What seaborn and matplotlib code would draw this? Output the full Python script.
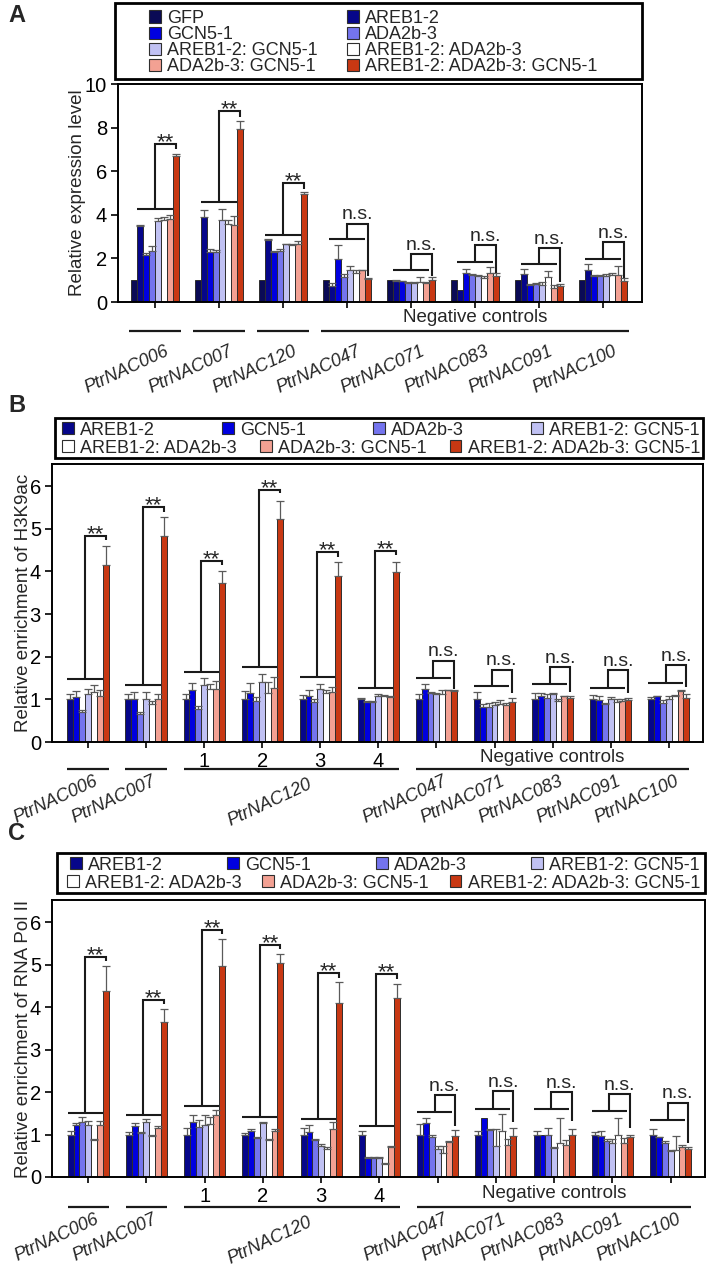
import numpy as np
import pandas as pd
import matplotlib
matplotlib.use('Agg')
import matplotlib.pyplot as plt
import matplotlib.transforms as mtransforms
from matplotlib.patches import Patch, Rectangle
import seaborn as sns

sns.set_theme(style='white')
plt.rcParams['font.family'] = ['Liberation Sans', 'DejaVu Sans']
plt.rcParams['axes.edgecolor'] = 'black'

# ---------------- data ----------------
series_all = ['GFP', 'AREB1-2', 'GCN5-1', 'ADA2b-3', 'AREB1-2: GCN5-1',
              'AREB1-2: ADA2b-3', 'ADA2b-3: GCN5-1', 'AREB1-2: ADA2b-3: GCN5-1']
colors_all = ['#0a0a55', '#06068a', '#0000e0', '#7474ee', '#c0c1f3',
              '#ffffff', '#f3a193', '#c83813']

# Panel A: relative expression level
a_groups = ['PtrNAC006', 'PtrNAC007', 'PtrNAC120', 'PtrNAC047',
            'PtrNAC071', 'PtrNAC083', 'PtrNAC091', 'PtrNAC100']
a_vals = {
    'GFP':                      [1.0, 1.0, 1.0, 1.0, 1.0, 1.0, 1.0, 1.0],
    'AREB1-2':                  [3.47, 3.9, 2.85, 0.75, 0.98, 0.54, 1.28, 1.49],
    'GCN5-1':                   [2.15, 2.3, 2.3, 1.95, 0.95, 1.33, 0.78, 1.2],
    'ADA2b-3':                  [2.35, 2.3, 2.35, 1.15, 0.86, 1.23, 0.82, 1.18],
    'AREB1-2: GCN5-1':          [3.7, 3.75, 2.65, 1.45, 0.86, 1.18, 0.77, 1.2],
    'AREB1-2: ADA2b-3':         [3.75, 3.6, 2.6, 1.35, 0.94, 1.08, 1.15, 1.26],
    'ADA2b-3: GCN5-1':          [3.8, 3.55, 2.65, 1.45, 0.85, 1.33, 0.63, 1.26],
    'AREB1-2: ADA2b-3: GCN5-1': [6.7, 7.95, 4.95, 1.05, 1.03, 1.18, 0.72, 0.95],
}
a_errs = {
    'GFP':                      [0, 0, 0, 0, 0, 0, 0, 0],
    'AREB1-2':                  [0.08, 0.3, 0.02, 0.1, 0.03, 0.0, 0.25, 0.27],
    'GCN5-1':                   [0.08, 0.12, 0.05, 0.65, 0.03, 0.18, 0.03, 0.03],
    'ADA2b-3':                  [0.2, 0.1, 0.1, 0.15, 0.04, 0.05, 0.05, 0.05],
    'AREB1-2: GCN5-1':          [0.15, 0.5, 0.03, 0.22, 0.08, 0.05, 0.15, 0.1],
    'AREB1-2: ADA2b-3':         [0.15, 0.18, 0.08, 0.1, 0.22, 0.12, 0.25, 0.05],
    'ADA2b-3: GCN5-1':          [0.2, 0.38, 0.15, 0.02, 0.05, 0.27, 0.15, 0.38],
    'AREB1-2: ADA2b-3: GCN5-1': [0.1, 0.35, 0.08, 0.05, 0.1, 0.15, 0.12, 0.15],
}
a_sig_text = ['**', '**', '**', 'n.s.', 'n.s.', 'n.s.', 'n.s.', 'n.s.']
a_sig_low = [4.28, 4.6, 3.08, 2.87, 1.46, 1.84, 1.73, 1.98]
a_sig_high = [7.24, 8.74, 5.48, 3.6, 2.2, 2.6, 2.48, 2.76]
a_sig_end = [7.0, 8.5, 5.2, 1.2, 1.2, 1.35, 0.9, 1.1]

# Panels B, C
bc_groups = ['PtrNAC006', 'PtrNAC007', 'PtrNAC120-1', 'PtrNAC120-2', 'PtrNAC120-3',
             'PtrNAC120-4', 'PtrNAC047', 'PtrNAC071', 'PtrNAC083', 'PtrNAC091', 'PtrNAC100']
bc_ticklabels = ['', '', '1', '2', '3', '4', '', '', '', '', '']

b_vals = {
    'AREB1-2':                  [1.0, 1.0, 1.0, 1.0, 1.0, 1.0, 1.0, 1.0, 1.0, 1.0, 1.0],
    'GCN5-1':                   [1.05, 1.02, 1.23, 1.16, 1.09, 0.93, 1.25, 0.82, 1.07, 0.98, 1.08],
    'ADA2b-3':                  [0.70, 0.65, 0.78, 0.96, 0.93, 0.94, 1.15, 0.82, 1.04, 0.90, 0.91],
    'AREB1-2: GCN5-1':          [1.12, 1.02, 1.33, 1.41, 1.25, 1.08, 1.13, 0.86, 1.12, 1.0, 1.0],
    'AREB1-2: ADA2b-3':         [1.18, 0.90, 1.25, 1.15, 1.16, 1.08, 1.13, 0.90, 0.96, 0.94, 1.09],
    'ADA2b-3: GCN5-1':          [1.07, 1.0, 1.25, 1.27, 1.17, 1.06, 1.21, 0.875, 1.07, 0.96, 1.19],
    'AREB1-2: ADA2b-3: GCN5-1': [4.16, 4.82, 3.72, 5.22, 3.9, 3.99, 1.2, 0.94, 1.03, 0.98, 1.03],
}
b_errs = {
    'AREB1-2':                  [0.13, 0.13, 0.13, 0.2, 0.11, 0.03, 0.13, 0.17, 0.15, 0.11, 0.05],
    'GCN5-1':                   [0.14, 0.15, 0.16, 0.23, 0.12, 0.02, 0.12, 0.08, 0.09, 0.09, 0.01],
    'ADA2b-3':                  [0.06, 0.05, 0.06, 0.1, 0.09, 0.02, 0.02, 0.1, 0.09, 0.02, 0.07],
    'AREB1-2: GCN5-1':          [0.13, 0.15, 0.17, 0.18, 0.12, 0.04, 0.02, 0.08, 0.03, 0.05, 0.07],
    'AREB1-2: ADA2b-3':         [0.15, 0.07, 0.12, 0.25, 0.05, 0.03, 0.1, 0.08, 0.06, 0.08, 0.02],
    'ADA2b-3: GCN5-1':          [0.14, 0.13, 0.18, 0.25, 0.12, 0.03, 0.02, 0.04, 0.02, 0.04, 0.02],
    'AREB1-2: ADA2b-3: GCN5-1': [0.43, 0.46, 0.28, 0.44, 0.31, 0.23, 0.01, 0.1, 0.04, 0.06, 0.1],
}
b_sig_text = ['**'] * 6 + ['n.s.'] * 5
b_sig_low = [1.47, 1.33, 1.64, 1.76, 1.52, 1.27, 1.5, 1.31, 1.35, 1.27, 1.38]
b_sig_high = [4.83, 5.5, 4.25, 5.92, 4.45, 4.48, 1.91, 1.7, 1.76, 1.68, 1.8]
b_sig_end = [4.73, 5.39, 4.15, 5.83, 4.35, 4.38, 1.25, 1.16, 1.17, 1.15, 1.29]

c_vals = {
    'AREB1-2':                  [1.0, 1.0, 1.0, 1.0, 1.0, 1.0, 1.0, 1.0, 1.0, 0.98, 1.0],
    'GCN5-1':                   [1.22, 1.2, 1.29, 1.08, 1.07, 0.45, 1.26, 1.38, 1.0, 0.97, 0.93],
    'ADA2b-3':                  [1.3, 1.03, 1.17, 0.92, 0.86, 0.45, 0.95, 1.11, 1.0, 0.85, 0.8],
    'AREB1-2: GCN5-1':          [1.22, 1.29, 1.23, 1.27, 0.72, 0.45, 0.67, 0.72, 0.68, 0.81, 0.62],
    'AREB1-2: ADA2b-3':         [0.87, 0.96, 1.24, 0.88, 0.66, 0.31, 0.56, 1.09, 0.8, 1.0, 0.64],
    'ADA2b-3: GCN5-1':          [1.22, 1.16, 1.46, 1.08, 1.12, 0.7, 0.83, 0.75, 0.76, 0.81, 0.7],
    'AREB1-2: ADA2b-3: GCN5-1': [4.38, 3.65, 4.96, 5.04, 4.09, 4.21, 0.97, 0.97, 1.0, 0.95, 0.67],
}
c_errs = {
    'AREB1-2':                  [0.09, 0.06, 0.15, 0.03, 0.15, 0.09, 0.24, 0.09, 0.09, 0.07, 0.14],
    'GCN5-1':                   [0.06, 0.06, 0.17, 0.05, 0.16, 0.02, 0.12, 0.0, 0.0, 0.12, 0.02],
    'ADA2b-3':                  [0.11, 0.02, 0.16, 0.02, 0.03, 0.02, 0.04, 0.02, 0.16, 0.04, 0.05],
    'AREB1-2: GCN5-1':          [0.1, 0.08, 0.22, 0.03, 0.06, 0.02, 0.06, 0.41, 0.02, 0.08, 0.02],
    'AREB1-2: ADA2b-3':         [0.03, 0.02, 0.18, 0.01, 0.04, 0.02, 0.17, 0.39, 0.6, 0.4, 0.33],
    'ADA2b-3: GCN5-1':          [0.1, 0.05, 0.12, 0.04, 0.17, 0.04, 0.02, 0.14, 0.1, 0.1, 0.06],
    'AREB1-2: ADA2b-3: GCN5-1': [0.58, 0.31, 0.64, 0.22, 0.5, 0.34, 0.13, 0.19, 0.14, 0.05, 0.03],
}
c_sig_text = ['**'] * 6 + ['n.s.'] * 5
c_sig_low = [1.5, 1.45, 1.68, 1.41, 1.37, 1.19, 1.52, 1.61, 1.59, 1.55, 1.34]
c_sig_high = [5.18, 4.17, 5.82, 5.46, 4.79, 4.77, 1.92, 2.02, 2.0, 1.95, 1.75]
c_sig_end = [5.08, 4.07, 5.72, 5.36, 4.69, 4.67, 1.2, 1.3, 1.32, 1.16, 0.81]

palette = dict(zip(series_all, colors_all))

# ---------------- figure ----------------
W, H = 711, 1269
fig = plt.figure(figsize=(W / 100, H / 100), dpi=100)


def ax_rect(l, r, t, b):
    return [l / W, 1 - b / H, (r - l) / W, (b - t) / H]


axA = fig.add_axes(ax_rect(118, 642, 84, 302))
axB = fig.add_axes(ax_rect(52, 703, 464, 742))
axC = fig.add_axes(ax_rect(52, 705, 900, 1177))

FS = 13
TFS = 14.5
EDGE = '#2e2e2e'


def draw_bars(ax, groups, series, vals, errs, width):
    rows = [(g, s, vals[s][i]) for s in series for i, g in enumerate(groups)]
    df = pd.DataFrame(rows, columns=['group', 'series', 'value'])
    sns.barplot(data=df, x='group', y='value', hue='series', order=groups,
                hue_order=series, palette=[palette[s] for s in series],
                saturation=1, width=width, errorbar=None, edgecolor=EDGE,
                linewidth=0.7, legend=False, ax=ax, zorder=2)
    geo = {}
    for s, cont in zip(series, ax.containers):
        lefts = np.array([p.get_x() for p in cont.patches])
        ws = np.array([p.get_width() for p in cont.patches])
        hs = np.array([p.get_height() for p in cont.patches])
        xs = lefts + ws / 2
        e = np.array(errs[s], dtype=float)
        m = e > 0
        if m.any():
            ax.errorbar(xs[m], hs[m], yerr=[np.zeros(m.sum()), e[m]], fmt='none',
                        ecolor='#5a5a5a', elinewidth=0.9, capsize=2.6,
                        capthick=0.9, zorder=3)
        geo[s] = (xs, lefts, ws)
    return geo


def draw_sig(ax, geo, n, low, high, end, texts, first, last, target):
    for i in range(n):
        x0 = geo[first][1][i]
        x1 = geo[last][1][i] + geo[last][2][i]
        xm = (x0 + x1) / 2
        xt = geo[target][0][i]
        ax.plot([x0, x1], [low[i], low[i]], color='k', lw=1.5,
                solid_capstyle='butt', clip_on=False, zorder=4)
        ax.plot([xm, xm, xt, xt], [low[i], high[i], high[i], end[i]], color='k',
                lw=1.5, solid_capstyle='butt', solid_joinstyle='miter',
                clip_on=False, zorder=4)
        if texts[i] == '**':
            off, fs = -3.0, 16
        else:
            off, fs = 3.0, 14
        ax.annotate(texts[i], xy=((xm + xt) / 2, high[i]), xytext=(0, off),
                    textcoords='offset points', ha='center', va='baseline',
                    fontsize=fs)


def style_axis(ax, ylim, yticks, ylabel, xlim, xticklabels, label_x):
    ax.set_ylim(*ylim)
    ax.set_yticks(yticks)
    ax.set_yticklabels([str(t) for t in yticks], fontsize=TFS)
    ax.set_xlim(*xlim)
    ax.set_xticks(range(len(xticklabels)))
    ax.set_xticklabels(xticklabels, fontsize=TFS)
    ax.set_xlabel('')
    ax.set_ylabel(ylabel, fontsize=FS + 0.5)
    ax.yaxis.set_label_coords(label_x, 0.5)
    for sp in ax.spines.values():
        sp.set_visible(True)
        sp.set_linewidth(1.4)
        sp.set_color('black')
    ax.tick_params(axis='y', direction='out', length=5, width=1.2, pad=3,
                   left=True, colors='black')
    ax.tick_params(axis='x', direction='out', length=4, width=1.2, pad=3,
                   bottom=True, colors='black')
    ax.grid(False)


def group_line(ax, x0, x1, y):
    tr = mtransforms.blended_transform_factory(ax.transData, ax.transAxes)
    ax.plot([x0, x1], [y, y], color='k', lw=1.6, transform=tr, clip_on=False,
            solid_capstyle='butt')


def rot_label(ax, x, y, s):
    tr = mtransforms.blended_transform_factory(ax.transData, ax.transAxes)
    ax.text(x, y, s, transform=tr, rotation=25, ha='right', va='top',
            rotation_mode='anchor', fontsize=13, style='italic')


def neg_text(ax, x, y):
    tr = mtransforms.blended_transform_factory(ax.transData, ax.transAxes)
    ax.text(x, y, 'Negative controls', transform=tr, ha='center', va='center',
            fontsize=FS + 0.5)


# ---------- Panel A ----------
geoA = draw_bars(axA, a_groups, series_all, a_vals, a_errs, 0.75)
style_axis(axA, (0, 10), [0, 2, 4, 6, 8, 10], 'Relative expression level',
           (-0.58, 7.61), [''] * len(a_groups), -0.062)
draw_sig(axA, geoA, len(a_groups), a_sig_low, a_sig_high, a_sig_end, a_sig_text,
         'AREB1-2', 'ADA2b-3: GCN5-1', 'AREB1-2: ADA2b-3: GCN5-1')
gl = geoA['GFP'][1]
gr = geoA['AREB1-2: ADA2b-3: GCN5-1'][1] + geoA['AREB1-2: ADA2b-3: GCN5-1'][2]
for i in range(3):
    group_line(axA, gl[i] - 0.03, gr[i] + 0.03, -0.133)
group_line(axA, gl[3] - 0.03, gr[7] + 0.03, -0.133)
neg_text(axA, (gl[3] + gr[7]) / 2, -0.073)
for i, g in enumerate(a_groups):
    rot_label(axA, i + 0.14, -0.185, g)

# ---------- Panel B / C ----------
bc_series = series_all[1:]
for ax, vals, errs, low, high, end, texts, ylabel, width, lab_y, neg_y, line_y in [
        (axB, b_vals, b_errs, b_sig_low, b_sig_high, b_sig_end, b_sig_text,
         'Relative enrichment of H3K9ac', 0.71, -0.112, -0.054, -0.097),
        (axC, c_vals, c_errs, c_sig_low, c_sig_high, c_sig_end, c_sig_text,
         'Relative enrichment of RNA Pol II', 0.70, -0.122, -0.061, -0.108)]:
    geo = draw_bars(ax, bc_groups, bc_series, vals, errs, width)
    style_axis(ax, (0, 6.52), [0, 1, 2, 3, 4, 5, 6], ylabel,
               (-0.62, 10.59), bc_ticklabels, -0.031)
    draw_sig(ax, geo, len(bc_groups), low, high, end, texts,
             'AREB1-2', 'ADA2b-3: GCN5-1', 'AREB1-2: ADA2b-3: GCN5-1')
    gl = geo['AREB1-2'][1]
    gr = geo['AREB1-2: ADA2b-3: GCN5-1'][1] + geo['AREB1-2: ADA2b-3: GCN5-1'][2]
    group_line(ax, gl[0], gr[0], line_y)
    group_line(ax, gl[1], gr[1], line_y)
    group_line(ax, gl[2], gr[5], line_y)
    group_line(ax, gl[6], gr[10], line_y)
    neg_text(ax, (gl[6] + gr[10]) / 2, neg_y)
    for i, g in enumerate(bc_groups):
        if g.startswith('PtrNAC120'):
            continue
        rot_label(ax, i + 0.1, lab_y, g)
    rot_label(ax, 3.5 + 0.27, lab_y - 0.01, 'PtrNAC120')

# ---------- legends ----------
handles = {s: Patch(facecolor=palette[s], edgecolor=EDGE, linewidth=0.8)
           for s in series_all}


def make_legend(items, x, y, fs=FS, w=None, tpad=0.35, **kw):
    anchor = (x / W, 1 - y / H) if w is None else (x / W, 1 - y / H, w / W, 0)
    leg = fig.legend([handles[s] for s in items], items, loc='center left',
                     bbox_to_anchor=anchor, frameon=False, borderpad=0,
                     borderaxespad=0, handlelength=0.65, handleheight=0.65,
                     handletextpad=tpad, fontsize=fs, **kw)
    return leg


def frame(l, r, t, b):
    fig.add_artist(Rectangle((l / W, 1 - b / H), (r - l) / W, (b - t) / H,
                             transform=fig.transFigure, fill=False,
                             edgecolor='black', linewidth=2.0))


# Panel A legend (two columns)
make_legend(['GFP', 'GCN5-1', 'AREB1-2: GCN5-1', 'ADA2b-3: GCN5-1'], 149, 42.5,
            labelspacing=-0.05)
make_legend(['AREB1-2', 'ADA2b-3', 'AREB1-2: ADA2b-3', 'AREB1-2: ADA2b-3: GCN5-1'],
            347, 42.5, labelspacing=-0.05)
frame(115, 642, 3, 79)

# Panel B legend
make_legend(bc_series[:4], 62, 430, w=638, ncol=4, mode='expand')
make_legend(bc_series[4:], 62, 448, w=638, ncol=3, mode='expand')
frame(55, 703, 418, 458)

# Panel C legend
make_legend(bc_series[:4], 70, 865, w=630, ncol=4, mode='expand')
make_legend(bc_series[4:], 67, 883, w=633, ncol=3, mode='expand')
frame(57, 705, 853, 893)

# panel letters
for lab, y in [('A', 16), ('B', 405), ('C', 833)]:
    fig.text(8 / W, 1 - y / H, lab, fontsize=17, fontweight='bold', va='center',
             ha='left')

fig.savefig('out.png', dpi=100)
